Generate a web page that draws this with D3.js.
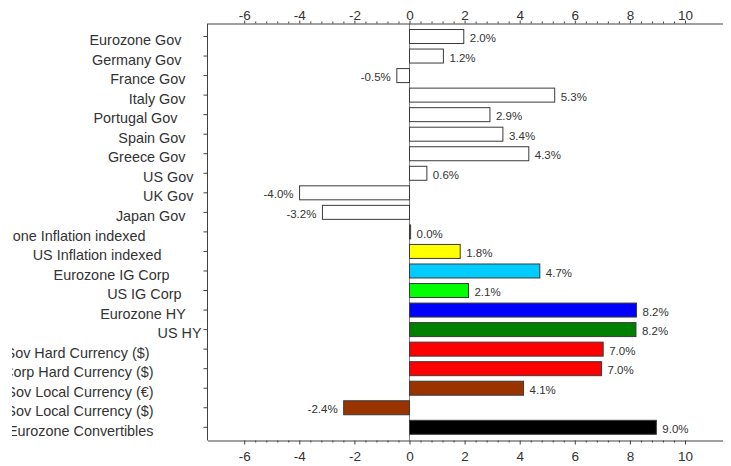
<!DOCTYPE html>
<html><head><meta charset="utf-8">
<script src="https://cdn.jsdelivr.net/npm/d3@7"></script>
<style>
body{margin:0;background:#fff}
svg{display:block}
text{font-family:"Liberation Sans",Arial,sans-serif}
</style>
</head><body>
<svg id="chart" width="731" height="466"></svg>
<script>
// ---- data ----
const categories = [
  "Eurozone Gov     ",
  "Germany Gov     ",
  "France Gov    ",
  "Italy Gov    ",
  "Portugal Gov      ",
  "Spain Gov    ",
  "Greece Gov    ",
  "US Gov  ",
  "UK Gov  ",
  "Japan Gov    ",
  "Eurozone Inflation indexed              ",
  "US Inflation indexed          ",
  "Eurozone IG Corp        ",
  "US IG Corp     ",
  "Eurozone HY    ",
  "US HY",
  "EM Sov Hard Currency ($)             ",
  "EM Corp Hard Currency ($)            ",
  "EM Sov Local Currency (€)            ",
  "EM Sov Local Currency ($)            ",
  "Eurozone Convertibles            "
];
const values = [1.97, 1.23, -0.46, 5.27, 2.92, 3.39, 4.33, 0.63, -3.99, -3.16,
                0.04, 1.84, 4.73, 2.14, 8.24, 8.22, 7.03, 6.97, 4.14, -2.39, 8.96];
const majorTicks = [-6, -4, -2, 0, 2, 4, 6, 8, 10];
const tickLabels = ["-6", "-4", "-2", "0", "2", "4", "6", "8", "10"];

// ---- styles ----
const barColors = ["#ffffff","#ffffff","#ffffff","#ffffff","#ffffff","#ffffff","#ffffff","#ffffff","#ffffff","#ffffff",
                   "#ffff00","#ffff00","#00ccff","#00ff00","#0000ff","#008000","#ff0000","#ff0000","#993300","#993300","#000000"];
const axisColor = "#404040";
const textColor = "#333333";

const svg = d3.select("#chart");
const pLeft = 207.5, pRight = 722.5, pTop = 23.5, pBottom = 440.5;

const x = d3.scaleLinear().domain([-7.332, 11.361]).range([pLeft, pRight]);
const y = d3.scaleBand().domain(categories).range([26.73, 437.07])
  .paddingInner(0.284).paddingOuter(0.142);
const bw = y.bandwidth();

// zero line
svg.append("line")
  .attr("x1", x(0)).attr("x2", x(0)).attr("y1", pTop).attr("y2", pBottom)
  .attr("stroke", "#808080").attr("stroke-width", 1);

// bars
svg.append("g").selectAll("rect").data(values).join("rect")
  .attr("x", d => x(Math.min(0, d)))
  .attr("width", d => Math.abs(x(d) - x(0)))
  .attr("y", (d, i) => y(categories[i]))
  .attr("height", bw)
  .attr("fill", (d, i) => barColors[i])
  .attr("stroke", "#3a3a3a").attr("stroke-width", 1);

// value labels
svg.append("g").selectAll("text").data(values).join("text")
  .attr("x", d => d < 0 ? x(d) - 6 : x(d) + 6)
  .attr("y", (d, i) => y(categories[i]) + bw / 2)
  .attr("dy", "0.49em")
  .attr("text-anchor", d => d < 0 ? "end" : "start")
  .attr("font-size", "11.5px")
  .attr("fill", textColor)
  .text(d => d.toFixed(1) + "%");

function styleAxis(g) {
  g.selectAll("path").attr("stroke", axisColor);
  g.selectAll("line").attr("stroke", axisColor);
  g.selectAll("text").attr("fill", textColor).attr("font-size", "13.5px")
    .attr("font-family", '"Liberation Sans",Arial,sans-serif');
}

const minorTicks = d3.range(-6, 10.001, 0.4).map(v => Math.round(v * 10) / 10)
  .filter(v => !majorTicks.includes(v));
const fmt = v => tickLabels[majorTicks.indexOf(v)];

// top axis
svg.append("g").attr("transform", `translate(0,${pTop})`)
  .call(d3.axisTop(x).tickValues(majorTicks).tickFormat(fmt).tickSize(3).tickSizeOuter(0).tickPadding(1))
  .call(styleAxis);
svg.append("g").attr("transform", `translate(0,${pTop})`)
  .call(d3.axisTop(x).tickValues(minorTicks).tickFormat("").tickSize(2))
  .call(g => g.select(".domain").remove()).call(styleAxis);

// bottom axis
svg.append("g").attr("transform", `translate(0,${pBottom})`)
  .call(d3.axisBottom(x).tickValues(majorTicks).tickFormat(fmt).tickSize(4).tickSizeOuter(0).tickPadding(7.4))
  .call(styleAxis);
svg.append("g").attr("transform", `translate(0,${pBottom})`)
  .call(d3.axisBottom(x).tickValues(minorTicks).tickFormat("").tickSize(2))
  .call(g => g.select(".domain").remove()).call(styleAxis);

// left axis (labels clipped at the left edge like the reference)
svg.append("defs").append("clipPath").attr("id", "lblclip")
  .append("rect").attr("x", 12 - pLeft).attr("y", 0).attr("width", 731).attr("height", 466);
const yAxisG = svg.append("g").attr("transform", `translate(${pLeft},0)`)
  .attr("clip-path", "url(#lblclip)");
yAxisG.call(d3.axisLeft(y).tickSize(4).tickSizeOuter(0).tickPadding(2))
  .call(g => g.select(".domain").remove())
  .call(styleAxis);
yAxisG.selectAll("text").attr("font-size", "14.4px").attr("dy", "0.6em")
  .style("white-space", "pre");
svg.append("line").attr("x1", pLeft).attr("x2", pLeft).attr("y1", pTop).attr("y2", pBottom)
  .attr("stroke", axisColor);
</script>
</body></html>
